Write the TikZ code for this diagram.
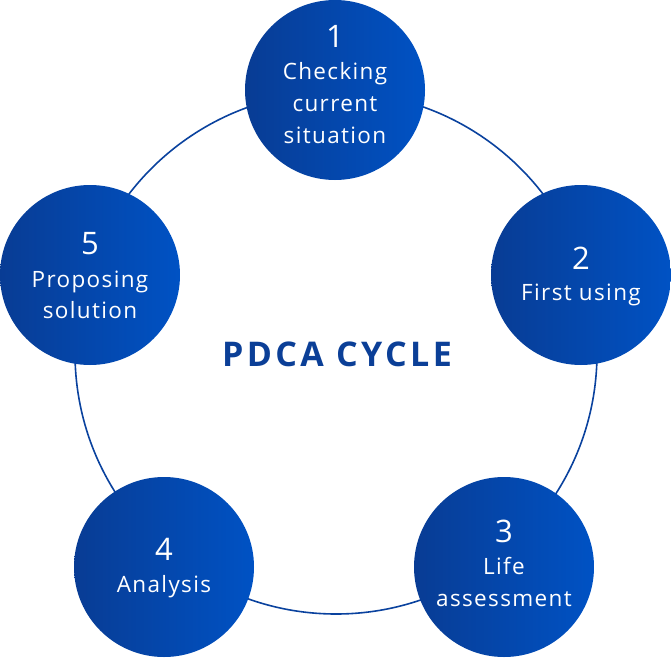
\documentclass[tikz,border=0pt]{standalone}
\usepackage{fontspec}
\setmainfont{Open Sans}[LetterSpace=6]
\newfontfamily\titlefont{Open Sans}[LetterSpace=10]
\usetikzlibrary{calc}
\definecolor{cleft}{RGB}{8,60,148}
\definecolor{cright}{RGB}{0,82,196}
\definecolor{ringc}{RGB}{10,66,158}
\definecolor{titlec}{RGB}{11,63,151}
\tikzset{
  circ/.style={circle,minimum size=180pt,inner sep=0pt,draw=none,left color=cleft,right color=cright,shading angle=90},
  numtxt/.style={text=white,font=\fontsize{31}{31}\selectfont,anchor=base,inner sep=0pt},
  lbltxt/.style={text=white,font=\fontsize{22.5}{22.5}\selectfont,anchor=base,inner sep=0pt},
}
\begin{document}
\begin{tikzpicture}[x=1pt,y=-1pt]
\useasboundingbox (0,0) rectangle (671,658);
\coordinate (ctr) at (336,353);
\draw[ringc,line width=1.6pt] (ctr) circle[radius=261];
\node[circ] (c1) at (335,90) {};
\node[circ] (c2) at (581,275) {};
\node[circ] (c3) at (504,567) {};
\node[circ] (c4) at (164,567) {};
\node[circ] (c5) at (90,275) {};
% circle 1
\node[numtxt] (n1) at ($(c1)+(0,-42)$) {1};
\node[lbltxt] (t1a) at ($(c1)+(0,-10)$) {Checking};
\node[lbltxt] (t1b) at ($(c1)+(0,22)$) {current};
\node[lbltxt] (t1c) at ($(c1)+(0,53)$) {situation};
% circle 2
\node[numtxt] (n2) at ($(c2)+(0,-6)$) {2};
\node[lbltxt] (t2a) at ($(c2)+(0,25)$) {First using};
% circle 3
\node[numtxt] (n3) at ($(c3)+(0,-25)$) {3};
\node[lbltxt] (t3a) at ($(c3)+(0,7)$) {Life};
\node[lbltxt] (t3b) at ($(c3)+(0,39)$) {assessment};
% circle 4
\node[numtxt] (n4) at ($(c4)+(0,-7)$) {4};
\node[lbltxt] (t4a) at ($(c4)+(0,25)$) {Analysis};
% circle 5
\node[numtxt] (n5) at ($(c5)+(0,-21)$) {5};
\node[lbltxt] (t5a) at ($(c5)+(0,12)$) {Proposing};
\node[lbltxt] (t5b) at ($(c5)+(0,43)$) {solution};
% title
\node[text=titlec,font=\titlefont\fontsize{34}{34}\selectfont\bfseries,anchor=base,inner sep=0pt] (title) at (337,366) {PDCA CYCLE};
\end{tikzpicture}
\end{document}
